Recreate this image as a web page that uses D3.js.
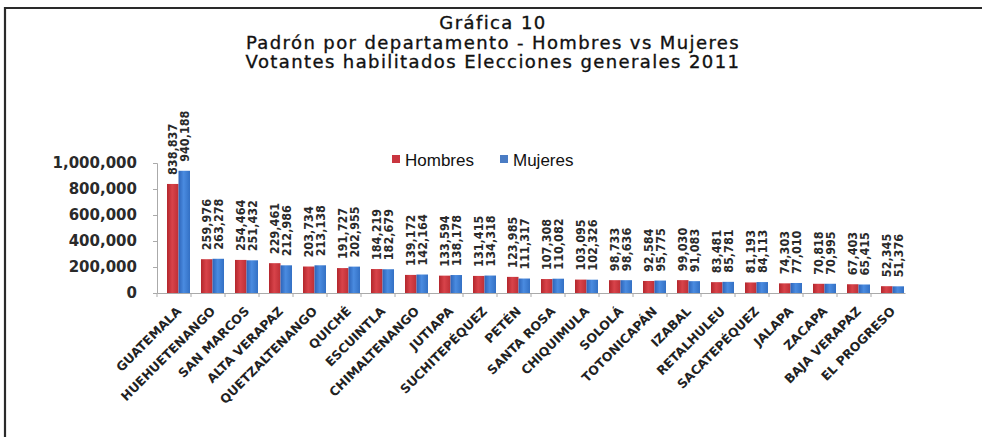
<!DOCTYPE html>
<html>
<head>
<meta charset="utf-8">
<script src="https://cdn.jsdelivr.net/npm/d3@7"></script>
<style>
  body { margin: 0; background: #fff; }
  svg { display: block; }
</style>
</head>
<body>
<div id="chart"></div>
<script>
// datos
var departamentos = ["GUATEMALA", "HUEHUETENANGO", "SAN MARCOS", "ALTA VERAPAZ", "QUETZALTENANGO",
  "QUICHÉ", "ESCUINTLA", "CHIMALTENANGO", "JUTIAPA", "SUCHITEPÉQUEZ", "PETÉN", "SANTA ROSA",
  "CHIQUIMULA", "SOLOLÁ", "TOTONICAPÁN", "IZABAL", "RETALHULEU", "SACATEPÉQUEZ", "JALAPA",
  "ZACAPA", "BAJA VERAPAZ", "EL PROGRESO"];
var hombres = [838837, 259976, 254464, 229461, 203734, 191727, 184219, 139172, 133594, 131415,
  123985, 107308, 103095, 98733, 92584, 99030, 83481, 81193, 74303, 70818, 67403, 52345];
var mujeres = [940188, 263278, 251432, 212986, 213138, 202955, 182679, 142164, 138178, 134318,
  111317, 110082, 102326, 98636, 95775, 91083, 85781, 84113, 77010, 70995, 65415, 51376];
var series = ["Hombres", "Mujeres"];
var yTicks = [0, 200000, 400000, 600000, 800000, 1000000];
var titulo = ["Gráfica 10", "Padrón por departamento - Hombres vs Mujeres",
  "Votantes habilitados Elecciones generales 2011"];

var W = 982, H = 437;
var svg = d3.select("#chart").append("svg").attr("width", W).attr("height", H);

// gradientes para simular las columnas 3D
var defs = svg.append("defs");
function grad(id, c1, c2, c3) {
  var g = defs.append("linearGradient").attr("id", id).attr("x1", 0).attr("x2", 1).attr("y1", 0).attr("y2", 0);
  g.append("stop").attr("offset", "0%").attr("stop-color", c1);
  g.append("stop").attr("offset", "45%").attr("stop-color", c2);
  g.append("stop").attr("offset", "100%").attr("stop-color", c3);
}
grad("gRojo", "#b3262c", "#d8434a", "#bd2f36");
grad("gAzul", "#2d64b8", "#4a8be0", "#3370c4");
var colores = { Hombres: "url(#gRojo)", Mujeres: "url(#gAzul)" };
var coloresLeyenda = { Hombres: "#c9353f", Mujeres: "#4a7cc4" };

// marco
svg.append("path").attr("d", "M5,437 V8 H982").attr("fill", "none").attr("stroke", "#2a2a2a").attr("stroke-width", 2.2);

// titulo
svg.append("g").selectAll("text").data(titulo).enter().append("text")
  .attr("x", 493).attr("y", function(d, i) { return 29 + i * 19.5; })
  .attr("text-anchor", "middle")
  .style("font-family", "DejaVu Sans").style("font-size", "18px").style("letter-spacing", "1.4px")
  .attr("fill", "#111").attr("stroke", "#111").attr("stroke-width", 0.35)
  .text(function(d) { return d; });

var x = d3.scaleBand().domain(departamentos).range([157, 905]);
var xs = d3.scaleBand().domain(series).range([10, 33]);
var y = d3.scaleLinear().domain([0, 1000000]).range([293, 163]);

// eje y
var gy = svg.append("g").attr("transform", "translate(157,0)")
  .call(d3.axisLeft(y).tickValues(yTicks).tickFormat(d3.format(",")).tickSize(4).tickPadding(16));
gy.select(".domain").attr("stroke", "#aaa");
gy.selectAll(".tick line").attr("stroke", "#aaa");
gy.selectAll("text").style("font-family", "DejaVu Sans").style("font-weight", "bold")
  .style("font-size", "15px").attr("fill", "#2a2a2a");

// eje x
var gx = svg.append("g").attr("transform", "translate(0,293)")
  .call(d3.axisBottom(x).tickSize(0).tickFormat(""));
gx.select(".domain").attr("stroke", "#aaa");
gx.selectAll(".sep").data(departamentos).enter().append("line")
  .attr("x1", function(d) { return x(d); }).attr("x2", function(d) { return x(d); })
  .attr("y1", 0).attr("y2", 4).attr("stroke", "#aaa");

// etiquetas de categoria
svg.append("g").selectAll("text").data(departamentos).enter().append("text")
  .attr("transform", function(d) {
    return "translate(" + (x(d) + x.bandwidth() / 2 + 8) + ",312) rotate(-45)";
  })
  .attr("text-anchor", "end")
  .style("font-family", "DejaVu Sans").style("font-weight", "bold").style("font-size", "12.5px")
  .attr("fill", "#222")
  .text(function(d) { return d; });

// columnas
var filas = departamentos.map(function(d, i) {
  return { dep: d, valores: [{ s: "Hombres", v: hombres[i] }, { s: "Mujeres", v: mujeres[i] }] };
});
var grupos = svg.append("g").selectAll("g").data(filas).enter().append("g")
  .attr("transform", function(d) { return "translate(" + x(d.dep) + ",0)"; });

grupos.selectAll("rect").data(function(d) { return d.valores; }).enter().append("rect")
  .attr("x", function(d) { return xs(d.s); })
  .attr("width", xs.bandwidth())
  .attr("y", function(d) { return y(d.v); })
  .attr("height", function(d) { return y(0) - y(d.v); })
  .attr("fill", function(d) { return colores[d.s]; });

// etiquetas de valor
grupos.selectAll("text").data(function(d) { return d.valores; }).enter().append("text")
  .attr("transform", function(d) {
    return "translate(" + (xs(d.s) + xs.bandwidth() / 2 + 4.5) + "," + (y(d.v) - 9) + ") rotate(-90)";
  })
  .attr("text-anchor", "start")
  .style("font-family", "DejaVu Sans Condensed, DejaVu Sans").style("font-weight", "bold")
  .style("font-size", "12.5px").attr("fill", "#2a2a2a")
  .text(function(d) { return d3.format(",")(d.v); });

// leyenda
var ley = svg.append("g").selectAll("g").data(series).enter().append("g")
  .attr("transform", function(d, i) { return "translate(" + (392 + i * 108) + ",155)"; });
ley.append("rect").attr("width", 8).attr("height", 8).attr("fill", function(d) { return coloresLeyenda[d]; });
ley.append("text").attr("x", 13).attr("y", 11)
  .style("font-family", "Liberation Sans").style("font-size", "17px").attr("fill", "#111")
  .text(function(d) { return d; });
</script>
</body>
</html>
